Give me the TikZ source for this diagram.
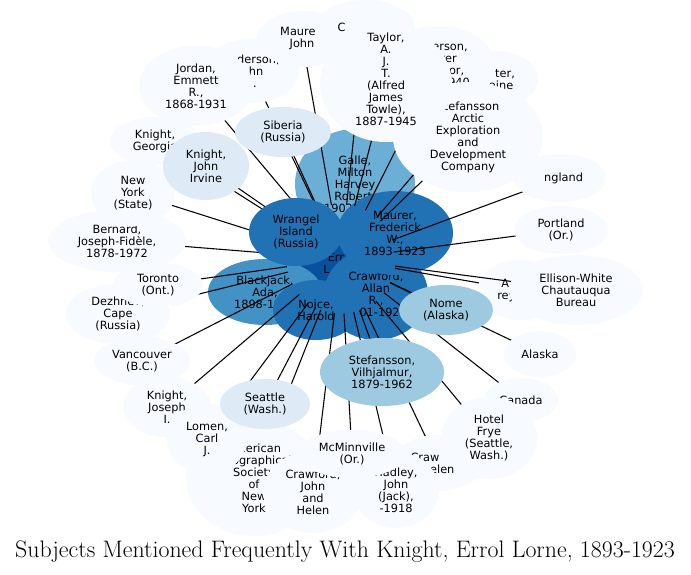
\documentclass[tikz,border=0pt]{standalone}
\usepackage{fontspec}
\newfontfamily\dejavu{DejaVu Sans}
\usetikzlibrary{shapes.geometric}

\definecolor{blue0}{HTML}{F7FBFF}
\definecolor{blue1}{HTML}{DEEBF7}
\definecolor{blue2}{HTML}{9ECAE1}
\definecolor{blue3}{HTML}{6BAED6}
\definecolor{blue4}{HTML}{4292C6}
\definecolor{blue5}{HTML}{2171B5}
\definecolor{blue6}{HTML}{08519C}

\pgfdeclarelayer{under}
\pgfdeclarelayer{links}
\pgfsetlayers{under,links,main}

\tikzset{
  bub/.style 2 args={ellipse, inner sep=0pt, minimum width=#1*1.5pt, minimum height=#2*1.5pt},
  txt/.style={font=\dejavu\fontsize{8.5}{9}\selectfont, align=center, inner sep=0pt, text=black},
  lite/.style={fill=blue0},
  link/.style={draw=black, line width=0.8pt, shorten <=41pt},
}

\begin{document}
\begin{tikzpicture}[x=0.75pt,y=-0.75pt]
\useasboundingbox (0,0) rectangle (691,574);

% central group, under the links
\begin{pgfonlayer}{under}
\fill[white] (0,0) rectangle (691,574);
\node[bub={45}{30}, fill=blue6, label={[txt,yshift=-3pt]center:{\phantom{Knight,}\\Err\phantom{ol}\\L\phantom{orne,}\\\phantom{1893-1923}}}] (knight) at (341,259) {};
\node[bub={60}{55}, fill=blue3, label={[txt]center:{Galle,\\Milton\\Harvey\\Robert,\\1902\phantom{-1980}}}] (galle) at (355,184) {};
\node[bub={52}{46}, fill=blue5, label={[txt]center:{Crawford,\\Allan\\R.,\\1901-1923}}] (crawford) at (376,294) {};
\node[bub={58}{42}, fill=blue5, label={[txt]center:{Maurer,\\Frederick\\W.,\\1893-1923}}] (maurer) at (395,233) {};
\node[bub={57}{33}, fill=blue4, label={[txt]center:{Blackjack,\\Ada,\\1898-1983}}] (blackjack) at (265,292) {};
\node[bub={43}{30}, fill=blue5, label={[txt]center:{Noice,\\Harold}}] (noice) at (316,310) {};
\node[bub={42}{30}, lite, label={[txt]center:{A\phantom{laska}\\rey\phantom{ional}}}] (arey) at (520,290) {};
\end{pgfonlayer}

% outer ring
\node[bub={69}{31}, lite, label={[txt]center:{Bernard,\\Joseph-Fidèle,\\1878-1972}}] (bernard) at (117,241) {};
\node[bub={42}{33}, lite, label={[txt]center:{New\\York\\(State)}}] (newyork) at (133,193) {};
\node[bub={52}{30}, lite, label={[txt]center:{Dezhnev,\\Cape\\(Russia)}}] (dezhnev) at (118,314) {};
\node[bub={45}{22}, lite, label={[txt]center:{Toronto\\(Ont.)}}] (toronto) at (158,285) {};
\node[bub={48}{24}, lite, label={[txt]center:{Vancouver\\(B.C.)}}] (vancouver) at (142,361) {};
\node[bub={44}{30}, lite, label={[txt]center:{Knight,\\Joseph\\I.}}] (kjoseph) at (167,407) {};
\node[bub={68}{58}, lite, label={[txt]center:{American\\Geographical\\Society\\of\\New\\York}}] (ags) at (254,478) {};
\node[bub={40}{35}, lite, label={[txt]center:{Lomen,\\Carl\\J.}}] (lomen) at (207,439) {};
\node[bub={50}{41}, lite, label={[txt]center:{Crawford,\\John\\and\\Helen}}] (crawjh) at (313,492) {};
\node[bub={45}{28}, lite, label={[txt]center:{Craw\phantom{ford,}\\\phantom{H}elen}}] (crawhelen) at (438,463) {};
\node[bub={43}{38}, lite, label={[txt]center:{Hadley,\\John\\(Jack),\\-1918}}] (hadley) at (396,490) {};
\node[bub={54}{24}, lite, label={[txt]center:{McMinnville\\(Or.)}}] (mcminn) at (352,454) {};
\node[bub={37}{22}, lite, label={[txt]center:{Canada}}] (canada) at (521,400) {};
\node[bub={48}{41}, lite, label={[txt]center:{Hotel\\Frye\\(Seattle,\\Wash.)}}] (frye) at (489,438) {};
\node[bub={36}{23}, lite, label={[txt]center:{Alaska}}] (alaska) at (540,354) {};
\node[bub={67}{35}, lite, label={[txt]center:{Ellison-White\\Chautauqua\\Bureau}}] (ellison) at (576,290) {};
\node[bub={47}{24}, lite, label={[txt]center:{Portland\\(Or.)}}] (portland) at (561,230) {};
\node[bub={46}{24}, lite, label={[txt]center:{\phantom{E}ngland}}] (england) at (560,178) {};
\node[bub={42}{28}, lite, label={[txt]center:{\phantom{Por}ter,\\\phantom{El}aine}}] (porter) at (496,79) {};
\node[bub={55}{38}, lite, label={[txt]center:{\phantom{And}erson,\\\phantom{Par}ker\\\phantom{Theo}dor,\\\phantom{1876-1}940}}] (erson) at (439,64) {};
\node[bub={75}{55}, lite, label={[txt]center:{Stefansson\\Arctic\\Exploration\\and\\Development\\Company}}] (arctic) at (468,137) {};
\node[bub={48}{32}, lite, label={[txt]center:{\phantom{An}derson,\\\phantom{Jo}hn\\\phantom{R}.}}] (anderson) at (251,71) {};
\node[bub={57}{40}, lite, label={[txt]center:{Jordan,\\Emmett\\R.,\\1868-1931}}] (jordan) at (196,86) {};
\node[bub={45}{28}, lite, label={[txt]center:{Maure\phantom{r,}\\John}}] (maurerj) at (302,39) {};
\node[bub={50}{28}, lite, label={[txt]center:{C\phantom{rawford,}}}] (cnode) at (365,28) {};
\node[bub={66}{58}, lite, label={[txt,yshift=3.75pt]center:{Taylor,\\A.\\J.\\T.\\(Alfred\\James\\Towle),\\1887-1945}}] (taylor) at (386,84) {};
\node[bub={45}{24}, lite, label={[txt]center:{Knight,\\Georgia}}] (kgeorgia) at (155,141) {};
\node[bub={43}{34}, fill=blue1, label={[txt]center:{Knight,\\John\\Irvine}}] (kjohn) at (206,166) {};
\node[bub={48}{25}, fill=blue1, label={[txt]center:{Siberia\\(Russia)}}] (siberia) at (283,132) {};
\node[bub={47}{34}, fill=blue5, label={[txt]center:{Wrangel\\Island\\(Russia)}}] (wrangel) at (296,232) {};
\node[bub={45}{25}, fill=blue1, label={[txt]center:{Seattle\\(Wash.)}}] (seattle) at (265,404) {};
\node[bub={47}{25}, fill=blue2, label={[txt]center:{Nome\\(Alaska)}}] (nome) at (446,310) {};
\node[bub={62}{34}, fill=blue2, label={[txt]center:{Stefansson,\\Vilhjalmur,\\1879-1962}}] (stefv) at (382,372) {};

\node[font=\fontsize{17.9}{20}\selectfont] (title) at (345,552) {Subjects Mentioned Frequently With Knight, Errol Lorne, 1893-1923};

% links from the centre
\begin{pgfonlayer}{links}
\draw[link] (knight.center) -- (jordan.center);
\draw[link] (knight.center) -- (anderson.center);
\draw[link] (knight.center) -- (maurerj.center);
\draw[link] (knight.center) -- (siberia.center);
\draw[link] (knight.center) -- (cnode.center);
\draw[link] (knight.center) -- (taylor.center);
\draw[link] (knight.center) -- (erson.center);
\draw[link] (knight.center) -- (porter.center);
\draw[link] (knight.center) -- (arctic.center);
\draw[link] (knight.center) -- (england.center);
\draw[link] (knight.center) -- (portland.center);
\draw[link] (knight.center) -- (ellison.center);
\draw[link] (knight.center) -- (arey);
\draw[link] (knight.center) -- (alaska.center);
\draw[link] (knight.center) -- (canada.center);
\draw[link] (knight.center) -- (frye.center);
\draw[link] (knight.center) -- (crawhelen.center);
\draw[link] (knight.center) -- (hadley.center);
\draw[link] (knight.center) -- (mcminn.center);
\draw[link] (knight.center) -- (crawjh.center);
\draw[link] (knight.center) -- (ags.center);
\draw[link] (knight.center) -- (lomen.center);
\draw[link] (knight.center) -- (seattle.center);
\draw[link] (knight.center) -- (kjoseph.center);
\draw[link] (knight.center) -- (vancouver.center);
\draw[link] (knight.center) -- (dezhnev.center);
\draw[link] (knight.center) -- (toronto.center);
\draw[link] (knight.center) -- (bernard.center);
\draw[link] (knight.center) -- (newyork.center);
\draw[link] (knight.center) -- (kgeorgia.center);
\draw[link] (knight.center) -- (kjohn.center);
\draw[link] (knight.center) -- (nome.center);
\draw[link] (knight.center) -- (stefv.center);
\end{pgfonlayer}
\end{tikzpicture}
\end{document}
